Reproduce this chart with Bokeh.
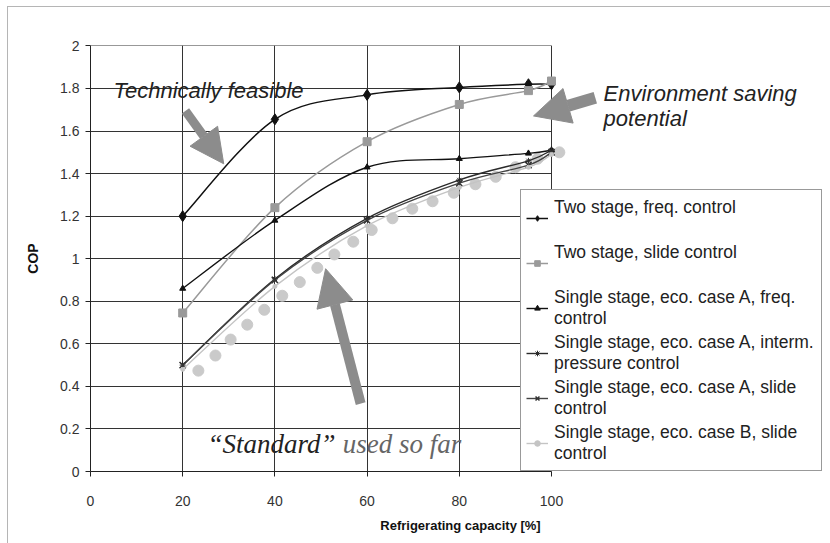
import numpy as np
from bokeh.plotting import figure
from bokeh.models import Range1d, FixedTicker, Arrow, NormalHead, Label
from bokeh.embed import file_html
from bokeh.resources import INLINE

# ---------------- data ----------------
capacity = [20, 40, 60, 80, 95, 100]
two_stage_freq = [1.20, 1.655, 1.77, 1.805, 1.82, 1.82]
two_stage_slide = [0.745, 1.24, 1.55, 1.725, 1.79, 1.835]
single_a_freq = [0.86, 1.18, 1.43, 1.47, 1.495, 1.51]
single_a_interm = [0.50, 0.905, 1.19, 1.37, 1.46, 1.51]
single_a_slide = [0.50, 0.90, 1.18, 1.355, 1.44, 1.50]
single_b_slide = [0.48, 0.87, 1.155, 1.335, 1.43, 1.49]

standard_x = [23.4, 27.1, 30.4, 34.0, 37.7, 41.6, 45.4, 49.2, 52.9, 57.0,
              61.0, 65.5, 69.8, 74.2, 78.8, 83.5, 87.9, 92.2, 97.0, 101.7]
standard_y = [0.474, 0.545, 0.62, 0.69, 0.76, 0.826, 0.89, 0.957, 1.02, 1.08,
              1.135, 1.19, 1.235, 1.27, 1.31, 1.35, 1.385, 1.43, 1.47, 1.50]

series_labels = [
    "Two stage, freq. control\n ",
    "Two stage, slide control\n ",
    "Single stage, eco. case A, freq.\ncontrol",
    "Single stage, eco. case A, interm.\npressure control",
    "Single stage, eco. case A, slide\ncontrol",
    "Single stage, eco. case B, slide\ncontrol",
]

x_ticks = [0, 20, 40, 60, 80, 100]
y_ticks = [0, 0.2, 0.4, 0.6, 0.8, 1, 1.2, 1.4, 1.6, 1.8, 2]
y_tick_labels = ["0", "0.2", "0.4", "0.6", "0.8", "1", "1.2", "1.4", "1.6", "1.8", "2"]

FONT = "Liberation Sans"
GRID = "#333333"

# layout (pixels)
W, H = 822, 536
LEFT, TOP, BOTTOM = 82, 38, 72
PX_PER_100 = 461          # screen width of 0..100 on the x axis
X_END = 100.0 * (W - LEFT) / PX_PER_100


def smooth_segments(xs, ys):
    """Cubic Bezier control points (Catmull-Rom style, like Excel smoothing)."""
    x = np.asarray(xs, float)
    y = np.asarray(ys, float)
    n = len(x)
    xp = np.concatenate([[x[0]], x, [x[-1]]])
    yp = np.concatenate([[y[0]], y, [y[-1]]])
    cx0 = x[:-1] + (xp[2:n + 1] - xp[0:n - 1]) / 6.0
    cy0 = y[:-1] + (yp[2:n + 1] - yp[0:n - 1]) / 6.0
    cx1 = x[1:] - (xp[3:n + 2] - xp[1:n]) / 6.0
    cy1 = y[1:] - (yp[3:n + 2] - yp[1:n]) / 6.0
    return dict(x0=x[:-1], y0=y[:-1], x1=x[1:], y1=y[1:],
                cx0=cx0, cy0=cy0, cx1=cx1, cy1=cy1)


p = figure(width=W, height=H,
           x_range=Range1d(0, X_END), y_range=Range1d(0, 2.002),
           output_backend="svg", toolbar_location=None,
           min_border_left=LEFT, min_border_right=0,
           min_border_top=TOP, min_border_bottom=BOTTOM,
           background_fill_color="white", border_fill_color="white")
p.styles = {"margin-left": "8px", "margin-top": "7px",
            "outline": "1px solid #b5b5b5"}

p.outline_line_color = None

p.xaxis.ticker = FixedTicker(ticks=x_ticks)
p.yaxis.ticker = FixedTicker(ticks=y_ticks)
p.yaxis.major_label_overrides = {t: l for t, l in zip(y_ticks, y_tick_labels)}
p.xaxis.bounds = (x_ticks[0], x_ticks[-1])

for ax in (p.xaxis[0], p.yaxis[0]):
    ax.axis_line_color = "#222222"
    ax.major_tick_line_color = "#222222"
    ax.major_tick_out = 5
    ax.major_tick_in = 0
    ax.minor_tick_out = 0
    ax.minor_tick_in = 0
    ax.major_label_text_font = FONT
    ax.major_label_text_font_size = "14px"
    ax.major_label_text_color = "#333333"
    ax.axis_label_text_font = FONT
    ax.axis_label_text_font_style = "bold"
    ax.axis_label_text_color = "#111111"

p.xaxis.major_label_standoff = 19
p.yaxis.major_label_standoff = 6
p.xaxis.axis_label = "Refrigerating capacity [%]"
p.xaxis.axis_label_text_font_size = "13px"
p.xaxis.axis_label_standoff = 9
p.yaxis.axis_label = "COP"
p.yaxis.axis_label_text_font_size = "14px"
p.yaxis.axis_label_standoff = 16

# grid limited to the data box 0..100 x 0..2
xg, yg = p.xgrid[0], p.ygrid[0]
if "cross_bounds" in xg.properties():
    for g in (xg, yg):
        g.grid_line_color = GRID
        g.grid_line_width = 1
    xg.cross_bounds = (y_ticks[0], y_ticks[-1])
    yg.cross_bounds = (x_ticks[0], x_ticks[-1])
else:
    xg.grid_line_color = None
    yg.grid_line_color = None
    p.segment(x0=x_ticks, y0=[y_ticks[0]] * len(x_ticks),
              x1=x_ticks, y1=[y_ticks[-1]] * len(x_ticks),
              line_color=GRID, line_width=1)
    p.segment(x0=[x_ticks[0]] * len(y_ticks), y0=y_ticks,
              x1=[x_ticks[-1]] * len(y_ticks), y1=y_ticks,
              line_color=GRID, line_width=1)

# "standard" dotted trend
p.scatter(standard_x, standard_y, marker="circle", size=11,
          fill_color="#cacaca", line_color="#cacaca")

series = [
    (two_stage_freq, "#111111", 1.5, "diamond", 11, "#111111", 1),
    (two_stage_slide, "#9a9a9a", 1.5, "square", 8, "#9a9a9a", 1),
    (single_a_freq, "#111111", 1.4, "triangle", 6, "#111111", 1),
    (single_a_interm, "#2a2a2a", 1.4, "asterisk", 6, "#2a2a2a", 1),
    (single_a_slide, "#444444", 1.4, "x", 9, "#333333", 1.5),
    (single_b_slide, "#c4c4c4", 1.4, "circle", 4, "#c4c4c4", 1),
]

for (vals, lc, lw, mk, ms, mc, mlw), lab in zip(series, series_labels):
    segs = smooth_segments(capacity, vals)
    p.bezier(x0=segs["x0"], y0=segs["y0"], x1=segs["x1"], y1=segs["y1"],
             cx0=segs["cx0"], cy0=segs["cy0"], cx1=segs["cx1"], cy1=segs["cy1"],
             line_color=lc, line_width=lw, legend_label=lab)
    p.scatter(capacity, vals, marker=mk, size=ms, fill_color=mc,
              line_color=mc, line_width=mlw, legend_label=lab)

# arrows
ARROW = "#8c8c8c"
for (xs, ys, xe, ye, w, hs) in [
    (20.6, 1.695, 28.9, 1.446, 9, 34),
    (109.5, 1.756, 96.1, 1.671, 12, 36),
    (58.6, 0.319, 51.0, 0.953, 10, 37),
]:
    p.add_layout(Arrow(x_start=xs, y_start=ys, x_end=xe, y_end=ye,
                       line_color=ARROW, line_width=w,
                       end=NormalHead(size=hs, fill_color=ARROW, line_color=ARROW,
                                      line_width=1)))

# annotation texts
p.add_layout(Label(x=5.0, y=1.789, text="Technically feasible", text_font=FONT,
                   text_font_style="italic", text_font_size="22px",
                   text_color="#222222", text_baseline="alphabetic"))
p.add_layout(Label(x=111.3, y=1.775, text="Environment saving", text_font=FONT,
                   text_font_style="italic", text_font_size="22px",
                   text_color="#222222", text_baseline="alphabetic"))
p.add_layout(Label(x=111.3, y=1.657, text="potential", text_font=FONT,
                   text_font_style="italic", text_font_size="22px",
                   text_color="#222222", text_baseline="alphabetic"))
p.add_layout(Label(x=25.4, y=0.131, text="\u201cStandard\u201d", text_font="Liberation Serif",
                   text_font_style="italic", text_font_size="27px",
                   text_color="#222222", text_baseline="alphabetic"))
p.add_layout(Label(x=54.7, y=0.131, text="used so far", text_font="Liberation Serif",
                   text_font_style="italic", text_font_size="27px",
                   text_color="#666666", text_baseline="alphabetic"))

# legend
lg = p.legend[0]
lg.location = (430, 0)
lg.border_line_color = "#333333"
lg.border_line_width = 1
lg.background_fill_color = "white"
lg.background_fill_alpha = 1
lg.padding = 5
lg.margin = 0
lg.spacing = 0
lg.glyph_width = 22
lg.glyph_height = 14
lg.label_standoff = 6
lg.label_height = 45
lg.label_width = 262
lg.label_text_font = FONT
lg.label_text_font_size = "17.5px"
lg.label_text_color = "#222222"
lg.label_text_line_height = 1.22

open("out.html", "w").write(file_html(p, INLINE))
